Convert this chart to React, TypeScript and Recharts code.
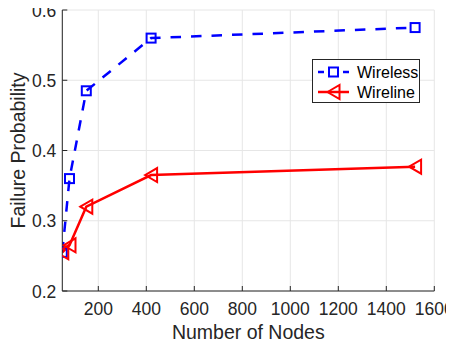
import React from "react";
import { LineChart, Line, XAxis, YAxis, CartesianGrid, Legend } from "recharts";

const nodes = [50, 80, 150, 420, 1520];
const wireless = [0.255, 0.36, 0.485, 0.56, 0.575];
const wireline = [0.255, 0.265, 0.32, 0.365, 0.377];
const xTicks = [200, 400, 600, 800, 1000, 1200, 1400, 1600];
const yTicks = [0.2, 0.3, 0.4, 0.5, 0.6];
const seriesNames = ["Wireless", "Wireline"];

const data = nodes.map((n, i) => ({ nodes: n, wireless: wireless[i], wireline: wireline[i] }));

const AX = "#262626";
const FONT = "'Liberation Sans', Arial, Helvetica, sans-serif";
const BLUE = "#0000ff";
const RED = "#ff0000";
const DASH = "10.5 10";

const XTick = (p: any) => (
  <g>
    <line x1={p.x} y1={p.y} x2={p.x} y2={p.y - 5} stroke={AX} strokeWidth={1} />
    <text x={p.x} y={p.y + 24} textAnchor="middle" fill={AX} fontSize={17.5} fontFamily={FONT}>
      {p.payload.value}
    </text>
  </g>
);
const YTick = (p: any) => (
  <g>
    <line x1={p.x} y1={p.y} x2={p.x + 5} y2={p.y} stroke={AX} strokeWidth={1} />
    <text x={p.x - 6} y={p.y} dy="0.38em" textAnchor="end" fill={AX} fontSize={17.5} fontFamily={FONT}>
      {Number(p.payload.value).toFixed(1)}
    </text>
  </g>
);
const TopTick = (p: any) => (
  <line x1={p.x} y1={p.y} x2={p.x} y2={p.y + 5} stroke={AX} strokeWidth={1} />
);
const RightTick = (p: any) => (
  <line x1={p.x} y1={p.y} x2={p.x - 5} y2={p.y} stroke={AX} strokeWidth={1} />
);

const square = (cx: number, cy: number, key?: any) => (
  <rect key={key} x={cx - 4.5} y={cy - 4.5} width={9} height={9} fill="none" stroke={BLUE} strokeWidth={2} />
);
const triangle = (cx: number, cy: number, key?: any) => (
  <polygon
    key={key}
    points={`${cx - 6},${cy} ${cx + 6},${cy - 7} ${cx + 6},${cy + 7}`}
    fill="none"
    stroke={RED}
    strokeWidth={2}
  />
);

const LegendBox = () => (
  <svg width={108} height={44} style={{ display: "block" }}>
    <rect x={0.5} y={0.5} width={107} height={43} fill="#fff" stroke={AX} strokeWidth={1} />
    <line x1={6} y1={13} x2={12} y2={13} stroke={BLUE} strokeWidth={2.5} />
    <line x1={31} y1={13} x2={37} y2={13} stroke={BLUE} strokeWidth={2.5} />
    {square(21.5, 13)}
    <text x={45} y={13} dy="0.35em" fill="#000" fontSize={16} fontFamily={FONT}>{seriesNames[0]}</text>
    <line x1={6} y1={33} x2={37} y2={33} stroke={RED} strokeWidth={2.5} />
    {triangle(21.5, 33)}
    <text x={45} y={33} dy="0.35em" fill="#000" fontSize={16} fontFamily={FONT}>{seriesNames[1]}</text>
  </svg>
);

export default function App() {
  return (
    <div style={{ margin: -8, width: 454, height: 347, overflow: "hidden" }}>
      <LineChart width={454} height={347} data={data} margin={{ top: 10, right: 19.7, bottom: 6, left: 0 }}>
        <CartesianGrid stroke="#e6e6e6" strokeWidth={1} />
        <XAxis
          dataKey="nodes"
          type="number"
          domain={[50, 1600]}
          ticks={xTicks}
          allowDataOverflow
          height={50}
          tickSize={0}
          tickMargin={0}
          tickLine={false}
          axisLine={{ stroke: AX, strokeWidth: 1 }}
          tick={XTick}
          interval={0}
          label={{
            content: (props: any) => {
              const vb = props.viewBox;
              return (
                <text x={vb.x + vb.width / 2} y={vb.y + 48} textAnchor="middle" fill={AX} fontSize={19.5} fontFamily={FONT}>
                  Number of Nodes
                </text>
              );
            },
          }}
        />
        <XAxis
          xAxisId="top"
          dataKey="nodes"
          type="number"
          orientation="top"
          domain={[50, 1600]}
          ticks={xTicks}
          allowDataOverflow
          height={0}
          tickSize={0}
          tickMargin={0}
          tickLine={false}
          axisLine={{ stroke: AX, strokeWidth: 1 }}
          tick={TopTick}
          interval={0}
        />
        <YAxis
          type="number"
          domain={[0.2, 0.6]}
          ticks={yTicks}
          allowDataOverflow
          width={62.3}
          tickSize={0}
          tickMargin={0}
          tickLine={false}
          axisLine={{ stroke: AX, strokeWidth: 1 }}
          tick={YTick}
          interval={0}
          label={{
            content: (props: any) => {
              const vb = props.viewBox;
              const cx = vb.x + 18;
              const cy = vb.y + vb.height / 2;
              return (
                <text
                  x={cx}
                  y={cy}
                  dy="0.35em"
                  textAnchor="middle"
                  fill={AX}
                  fontSize={19.5}
                  fontFamily={FONT}
                  transform={`rotate(-90 ${cx} ${cy})`}
                >
                  Failure Probability
                </text>
              );
            },
          }}
        />
        <YAxis
          yAxisId="right"
          orientation="right"
          type="number"
          domain={[0.2, 0.6]}
          ticks={yTicks}
          allowDataOverflow
          width={0}
          tickSize={0}
          tickMargin={0}
          tickLine={false}
          axisLine={{ stroke: AX, strokeWidth: 1 }}
          tick={RightTick}
          interval={0}
        />
        <Legend
          layout="vertical"
          align="center"
          verticalAlign="middle"
          wrapperStyle={{ left: 312, top: 59, width: 108, height: 44 }}
          content={() => <LegendBox />}
        />
        <Line
          name={seriesNames[0]}
          dataKey="wireless"
          type="linear"
          stroke={BLUE}
          strokeWidth={2.5}
          strokeDasharray={DASH}
          isAnimationActive={false}
          dot={(p: any) => square(p.cx, p.cy, p.key ?? `s${p.index}`)}
        />
        <Line
          name={seriesNames[1]}
          dataKey="wireline"
          type="linear"
          stroke={RED}
          strokeWidth={2.5}
          isAnimationActive={false}
          dot={(p: any) => triangle(p.cx, p.cy, p.key ?? `t${p.index}`)}
        />
      </LineChart>
    </div>
  );
}
